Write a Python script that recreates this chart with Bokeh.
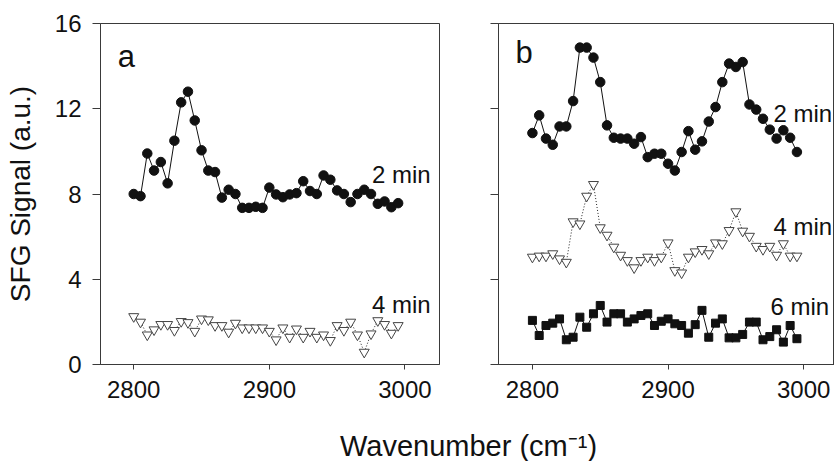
from bokeh.plotting import figure
from bokeh.layouts import row, column
from bokeh.models import Range1d, Label, FixedTicker
from bokeh.embed import file_html
from bokeh.resources import INLINE

FONT = "Liberation Sans"

wavenumber = [2800, 2805, 2810, 2815, 2820, 2825, 2830, 2835, 2840, 2845,
              2850, 2855, 2860, 2865, 2870, 2875, 2880, 2885, 2890, 2895,
              2900, 2905, 2910, 2915, 2920, 2925, 2930, 2935, 2940, 2945,
              2950, 2955, 2960, 2965, 2970, 2975, 2980, 2985, 2990, 2995]

a_2min = [8.0, 7.9, 9.9, 9.1, 9.5, 8.5, 10.5, 12.3, 12.8, 11.45,
          10.05, 9.1, 9.03, 7.83, 8.2, 8.0, 7.35, 7.35, 7.4, 7.35,
          8.3, 7.98, 7.85, 7.98, 8.04, 8.6, 8.14, 8.0, 8.87, 8.67,
          8.17, 8.0, 7.62, 8.0, 8.2, 8.0, 7.54, 7.65, 7.38, 7.57]
a_4min = [2.25, 1.99, 1.39, 1.63, 1.88, 1.88, 1.6, 2.02, 1.97, 1.56,
          2.14, 2.1, 1.83, 1.83, 1.52, 1.94, 1.72, 1.72, 1.72, 1.72,
          1.56, 1.16, 1.72, 1.28, 1.67, 1.28, 1.56, 1.28, 1.39, 1.13,
          1.83, 1.6, 1.99, 1.39, 0.58, 1.44, 2.06, 1.88, 1.47, 1.83]
b_2min = [10.86, 11.69, 10.6, 10.31, 11.17, 11.17, 12.36, 14.87, 14.87, 14.4,
          13.25, 11.22, 10.64, 10.6, 10.6, 10.36, 10.67, 9.73, 9.89, 9.89,
          9.42, 9.1, 9.97, 10.95, 10.08, 10.47, 11.4, 12.08, 13.25, 14.12,
          13.96, 14.19, 12.2, 11.96, 11.53, 11.02, 10.6, 10.99, 10.64, 9.97]
b_4min = [5.04, 5.09, 5.09, 5.2, 4.96, 4.8, 6.7, 6.6, 7.9, 8.45,
          6.42, 6.07, 5.51, 5.13, 4.88, 4.54, 4.88, 5.04, 4.88, 5.04,
          5.71, 4.41, 4.3, 5.04, 5.29, 5.4, 5.2, 5.71, 5.67, 6.29,
          7.17, 6.26, 6.02, 5.55, 5.4, 5.55, 5.13, 5.67, 5.09, 5.09]
b_6min = [2.07, 1.36, 1.83, 1.94, 2.14, 1.16, 1.28, 2.22, 1.75, 2.38,
          2.77, 1.99, 2.38, 2.38, 1.99, 2.14, 2.3, 2.38, 1.83, 2.03,
          2.14, 1.91, 1.83, 1.47, 1.87, 2.54, 1.28, 1.94, 2.14, 1.25,
          1.25, 1.41, 1.99, 1.99, 1.16, 1.31, 1.63, 1.05, 1.83, 1.21]

x_ticks = [2800, 2900, 3000]
y_ticks = [0, 4, 8, 12, 16]
AXC = "#3a3a3a"
TXT = "#111111"


def make_panel(width, x_start, x_end, border_left, border_right, show_ylabels):
    p = figure(width=width, height=414, x_range=Range1d(x_start, x_end),
               y_range=Range1d(0, 16), output_backend="svg", toolbar_location=None,
               min_border_left=border_left, min_border_right=border_right,
               min_border_top=23, min_border_bottom=50)
    p.grid.visible = False
    p.outline_line_color = AXC
    p.background_fill_color = "white"
    p.border_fill_color = "white"
    p.xaxis.ticker = FixedTicker(ticks=x_ticks)
    p.yaxis.ticker = FixedTicker(ticks=y_ticks)
    for ax in (p.xaxis[0], p.yaxis[0]):
        ax.axis_line_color = AXC
        ax.major_tick_line_color = AXC
        ax.major_tick_in = 0
        ax.minor_tick_in = 0
        ax.minor_tick_out = 0
        ax.major_label_text_font = FONT
        ax.major_label_text_font_size = "24px"
        ax.major_label_text_color = TXT
    p.xaxis.major_tick_out = 5
    p.xaxis.major_label_standoff = 11
    p.yaxis.major_tick_out = 8
    p.yaxis.major_label_standoff = 11
    if not show_ylabels:
        p.yaxis.major_label_overrides = {t: "" for t in y_ticks}
    return p


pa = make_panel(463, 2775.5, 3025.5, 100, 24, True)
pa.yaxis.axis_label = "SFG Signal (a.u.)"
pa.yaxis.axis_label_text_font = FONT
pa.yaxis.axis_label_text_font_size = "28px"
pa.yaxis.axis_label_text_font_style = "normal"
pa.yaxis.axis_label_text_color = TXT
pa.yaxis.axis_label_standoff = 16

pb = make_panel(371, 2775.0, 3022.7, 35, 0, False)


def dotted_triangles(p, ys):
    p.line(wavenumber, ys, line_color="#222222", line_width=1, line_dash="1 2")
    p.scatter(wavenumber, ys, marker="inverted_triangle", size=10,
              fill_color="white", line_color="#444444", line_width=1)


def solid_circles(p, ys):
    p.line(wavenumber, ys, line_color="#111111", line_width=1)
    p.scatter(wavenumber, ys, marker="circle", size=9.5,
              fill_color="#111111", line_color="#111111")


solid_circles(pa, a_2min)
dotted_triangles(pa, a_4min)

solid_circles(pb, b_2min)
dotted_triangles(pb, b_4min)
pb.line(wavenumber, b_6min, line_color="#111111", line_width=1)
pb.scatter(wavenumber, b_6min, marker="square", size=8,
           fill_color="#111111", line_color="#111111")


def add_label(p, x, y, text, size):
    p.add_layout(Label(x=x, y=y, text=text, text_font=FONT, text_font_size=size,
                       text_color=TXT, text_baseline="alphabetic", text_align="left"))


add_label(pa, 2788.2, 14.45, "a", "31px")
add_label(pa, 2975.7, 8.92, "2 min", "24px")
add_label(pa, 2975.7, 2.81, "4 min", "24px")
add_label(pb, 2787.5, 14.64, "b", "31px")
add_label(pb, 2977.7, 11.78, "2 min", "24px")
add_label(pb, 2977.7, 6.48, "4 min", "24px")
add_label(pb, 2975.5, 2.72, "6 min", "24px")

pc = figure(width=834, height=47, x_range=Range1d(0, 1), y_range=Range1d(0, 1),
            x_axis_type=None, y_axis_type=None, output_backend="svg",
            toolbar_location=None, min_border=0)
pc.grid.visible = False
pc.outline_line_color = None
pc.add_layout(Label(x=468, y=16, x_units="screen", y_units="screen",
                    text="Wavenumber (cm\u207b\u00b9)", text_font=FONT,
                    text_font_size="29px", text_color=TXT,
                    text_align="center", text_baseline="alphabetic"))

layout = column(row(pa, pb, spacing=0), pc, spacing=0)
open("out.html", "w").write(file_html(layout, INLINE))
